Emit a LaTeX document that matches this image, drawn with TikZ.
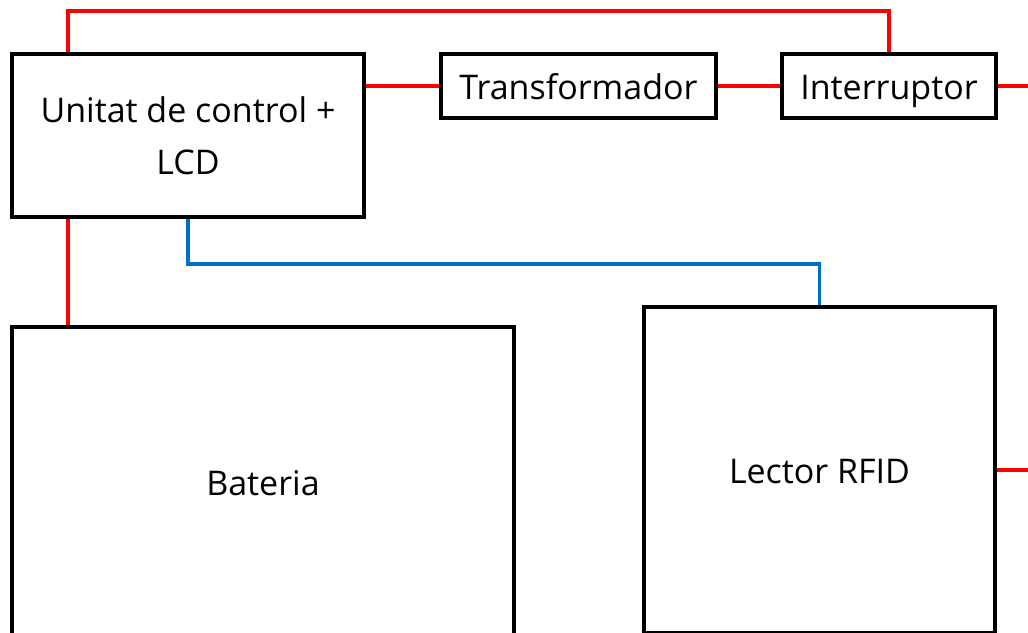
\documentclass[tikz,border=0pt]{standalone}
\usepackage{fontspec}
\setmainfont{Open Sans}
\begin{document}
\begin{tikzpicture}[x=1pt,y=-1pt,
  boxbase/.style={draw=black,line width=4pt,fill=white,inner sep=0pt,align=center,
    font=\fontsize{34}{52}\selectfont},
  box/.style={boxbase,text height=26pt,text depth=0pt},
  pw/.style={draw=red,line width=4pt},
  sig/.style={draw={rgb,255:red,0;green,112;blue,192},line width=3.5pt}]
\clip (0,0) rectangle (1028,632);
\fill[white] (0,0) rectangle (1028,632);
\node[boxbase,minimum width=352pt,minimum height=163pt] (ctrl) at (188,135.5) {Unitat de control +\\LCD};
\node[box,minimum width=275pt,minimum height=64pt] (trans) at (578.5,86) {Transformador};
\node[box,minimum width=214pt,minimum height=64pt] (intr) at (889,86) {Interruptor};
\node[box,minimum width=502pt,minimum height=311pt] (bat) at (263,482.5) {Bateria};
\node[box,minimum width=351pt,minimum height=326pt] (rfid) at (819.5,470) {Lector RFID};
\coordinate (rA) at (1032,86);
\coordinate (rB) at (1032,470);
\draw[pw] ([xshift=58pt]ctrl.north west) -- ++(0,-41) -| (intr.north);
\draw[pw] (ctrl.east |- trans.west) -- (trans.west);
\draw[pw] (trans.east) -- (intr.west);
\draw[pw] (intr.east) -- (rA);
\draw[pw] ([xshift=58pt]ctrl.south west) -- ([xshift=58pt]bat.north west);
\draw[sig] (ctrl.south) -- ++(0,45) -| (rfid.north);
\draw[pw] (rfid.east) -- (rB);
\end{tikzpicture}
\end{document}
